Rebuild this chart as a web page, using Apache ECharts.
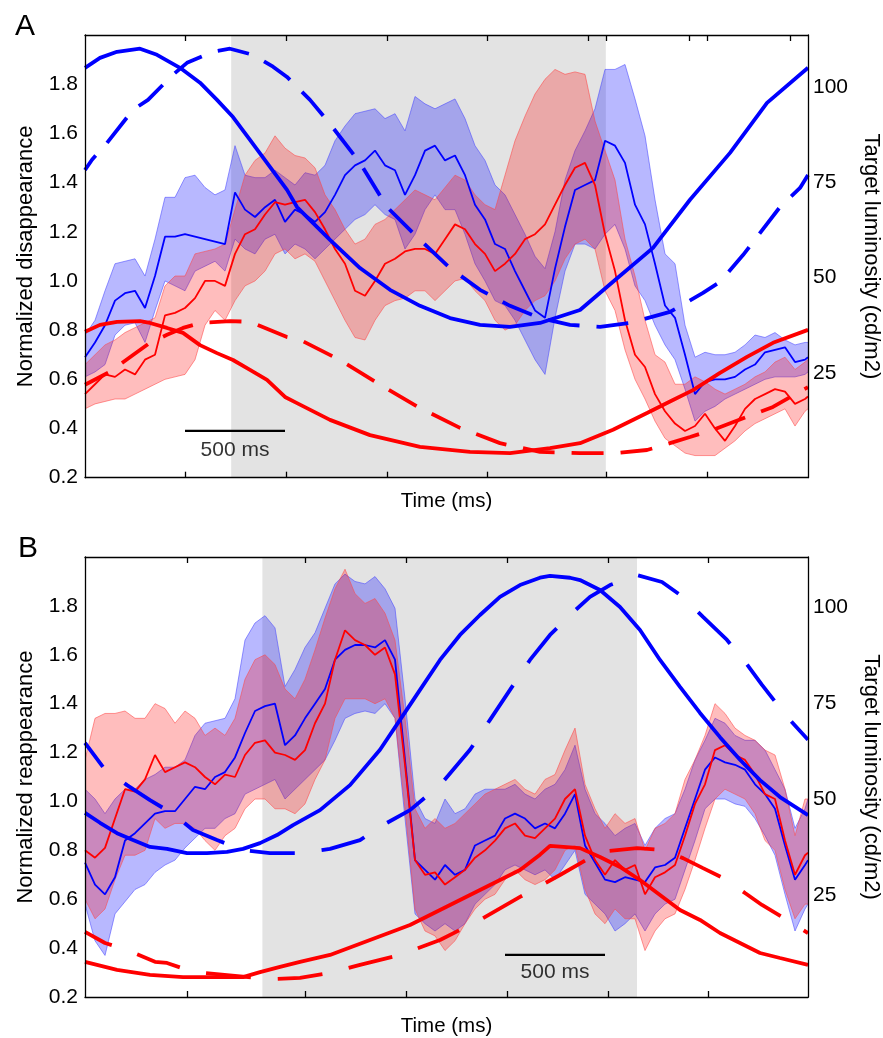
<!DOCTYPE html>
<html><head><meta charset="utf-8">
<script src="https://cdn.jsdelivr.net/npm/echarts@6/dist/echarts.min.js"></script>
<style>html,body{margin:0;padding:0;background:#fff}#c{width:883px;height:1038px}</style>
</head><body><div id="c"></div>
<script>
// ---------- sample times (ms) shared by the mean / band series ----------
const sampleTimes = [0,50,100,150,200,250,300,350,400,450,500,550,600,650,700,750,800,850,900,950,1000,1050,1100,1150,1200,1250,1300,1350,1400,1450,1500,1550,1600,1650,1700,1750,1800,1850,1900,1950,2000,2050,2100,2150,2200,2250,2300,2350,2400,2450,2500,2550,2600,2650,2700,2750,2800,2850,2900,2950,3000,3050,3100,3150,3200,3250,3300,3350,3400,3450,3500,3550,3600,3615];

// ---------- Panel A: normalized disappearance ----------
const aBlueMean = [0.69,0.75,0.82,0.92,0.95,0.96,0.89,1.02,1.18,1.18,1.19,1.18,1.17,1.16,1.15,1.36,1.29,1.26,1.30,1.33,1.24,1.29,1.27,1.24,1.28,1.35,1.43,1.47,1.49,1.53,1.47,1.45,1.35,1.43,1.53,1.55,1.49,1.51,1.43,1.31,1.25,1.15,1.13,1.04,0.96,0.88,0.85,1.05,1.22,1.37,1.39,1.41,1.57,1.55,1.48,1.31,1.23,1.07,0.90,0.85,0.70,0.54,0.59,0.60,0.60,0.61,0.64,0.66,0.71,0.72,0.73,0.67,0.68,0.69];
const aBlueUpper = [0.78,0.84,0.96,1.07,1.08,1.09,1.02,1.17,1.34,1.34,1.42,1.43,1.38,1.35,1.37,1.55,1.43,1.42,1.42,1.45,1.42,1.39,1.44,1.43,1.47,1.57,1.63,1.68,1.69,1.70,1.66,1.68,1.61,1.75,1.72,1.70,1.72,1.74,1.66,1.55,1.49,1.39,1.35,1.27,1.19,1.10,1.05,1.20,1.41,1.53,1.61,1.70,1.86,1.86,1.88,1.74,1.59,1.33,1.11,1.07,0.82,0.69,0.71,0.70,0.70,0.71,0.74,0.78,0.77,0.79,0.76,0.74,0.75,0.75];
const aBlueLower = [0.61,0.63,0.66,0.78,0.82,0.83,0.75,0.88,1.00,0.98,0.96,1.04,1.06,1.08,1.04,1.17,1.13,1.11,1.17,1.19,1.11,1.15,1.13,1.09,1.13,1.17,1.21,1.25,1.27,1.31,1.27,1.25,1.13,1.19,1.29,1.35,1.29,1.29,1.19,1.07,1.00,0.92,0.90,0.84,0.76,0.68,0.62,0.85,1.04,1.15,1.15,1.13,1.19,1.23,1.13,0.98,0.92,0.82,0.74,0.68,0.56,0.43,0.47,0.49,0.52,0.54,0.56,0.58,0.60,0.61,0.61,0.61,0.62,0.63];
const aRedMean = [0.54,0.58,0.62,0.61,0.64,0.62,0.68,0.70,0.86,0.87,0.89,0.93,1.00,1.00,0.98,1.11,1.19,1.21,1.27,1.32,1.31,1.32,1.33,1.28,1.21,1.13,1.07,0.96,0.94,1.00,1.07,1.09,1.12,1.13,1.13,1.11,1.17,1.23,1.21,1.15,1.11,1.04,1.07,1.11,1.17,1.19,1.23,1.31,1.39,1.46,1.48,1.39,1.19,1.04,0.84,0.70,0.65,0.54,0.47,0.42,0.39,0.41,0.46,0.40,0.35,0.41,0.48,0.52,0.54,0.56,0.55,0.50,0.52,0.53];
const aRedUpper = [0.66,0.70,0.74,0.76,0.79,0.81,0.83,0.85,0.98,1.02,1.02,1.11,1.12,1.13,1.15,1.29,1.43,1.49,1.52,1.59,1.54,1.51,1.50,1.46,1.35,1.29,1.21,1.15,1.17,1.23,1.25,1.29,1.33,1.37,1.35,1.33,1.38,1.43,1.41,1.35,1.31,1.29,1.43,1.57,1.67,1.76,1.82,1.86,1.84,1.85,1.84,1.65,1.53,1.41,1.17,1.02,0.84,0.70,0.67,0.58,0.58,0.61,0.59,0.56,0.54,0.56,0.58,0.61,0.63,0.67,0.69,0.64,0.67,0.68];
const aRedLower = [0.48,0.50,0.51,0.52,0.52,0.54,0.56,0.58,0.60,0.61,0.62,0.68,0.82,0.88,0.84,0.92,0.98,1.00,1.04,1.11,1.13,1.09,1.11,1.08,1.00,0.92,0.84,0.77,0.76,0.84,0.90,0.92,0.93,0.96,0.96,0.92,0.96,1.00,1.01,0.96,0.92,0.84,0.80,0.82,0.88,0.92,0.94,1.00,1.09,1.15,1.17,1.13,0.96,0.88,0.72,0.60,0.52,0.43,0.36,0.33,0.30,0.29,0.29,0.29,0.32,0.35,0.39,0.42,0.44,0.46,0.48,0.41,0.47,0.48];

// target luminosity (cd/m2), panel A
const aSolidBlueT = [0,75,160,275,360,475,575,660,740,825,910,1010,1060,1225,1375,1525,1675,1825,1975,2125,2275,2475,2640,2840,3025,3225,3410,3615];
const aSolidBlueLum = [105.0,107.6,109.2,110.0,108.4,105.0,101.1,96.6,92.1,86.1,80.1,73.0,68.5,59.9,52.5,46.8,42.6,39.4,37.6,37.1,38.1,41.5,48.9,57.8,70.4,82.7,95.8,105.0];
const aDashBlueT = [0,35,110,240,315,440,510,640,725,840,940,1010,1125,1225,1375,1510,1675,1825,1975,2125,2275,2425,2575,2725,2925,3090,3175,3290,3475,3575,3615];
const aDashBlueLum = [78.2,80.9,85.3,94.0,96.6,103.2,106.3,109.2,110.0,108.4,105.3,102.6,96.6,90.3,80.1,68.5,59.9,52.5,46.8,42.6,39.4,37.6,37.1,38.1,41.0,46.0,48.9,55.9,68.5,73.5,76.9];
const aSolidRedT = [0,75,160,275,325,410,490,575,660,740,825,910,1000,1060,1225,1425,1675,1925,2125,2325,2475,2640,2810,2940,3040,3175,3310,3440,3615];
const aSolidRedLum = [35.8,37.6,38.4,38.6,38.1,36.8,35.5,32.3,30.2,28.4,25.8,23.2,18.7,17.1,12.7,8.7,5.6,4.3,4.0,5.3,6.6,10.1,14.5,17.9,20.5,25.0,29.2,32.9,36.3];
const aDashRedT = [0,125,240,325,410,490,575,725,825,1010,1075,1275,1475,1675,1875,2075,2275,2475,2660,2810,2925,3025,3140,3310,3440,3615];
const aDashRedLum = [21.9,25.3,29.7,32.9,35.0,36.8,38.1,38.6,38.4,34.4,33.7,28.4,21.9,15.8,10.6,6.6,4.3,4.0,4.0,4.8,6.6,8.2,10.1,13.5,16.1,21.3];

// ---------- Panel B: normalized reappearance ----------
const bBlueMean = [0.75,0.66,0.62,0.69,0.84,0.87,0.91,0.95,0.96,0.96,1.01,1.06,1.05,1.10,1.12,1.18,1.28,1.37,1.39,1.40,1.23,1.27,1.34,1.40,1.46,1.58,1.62,1.64,1.64,1.63,1.66,1.58,1.17,0.76,0.72,0.68,0.74,0.70,0.72,0.82,0.84,0.86,0.93,0.95,0.93,0.89,0.91,0.89,0.95,1.03,0.82,0.75,0.68,0.67,0.69,0.68,0.67,0.73,0.74,0.77,0.89,1.01,1.13,1.18,1.16,1.15,1.13,1.07,1.03,0.97,0.82,0.68,0.74,0.76];
const bBlueUpper = [1.05,1.01,0.95,1.01,1.05,1.05,1.09,1.11,1.14,1.14,1.17,1.27,1.32,1.33,1.34,1.42,1.66,1.73,1.76,1.71,1.47,1.54,1.63,1.69,1.79,1.89,1.93,1.90,1.89,1.92,1.87,1.79,1.42,1.01,0.93,0.91,1.01,0.95,0.97,1.03,1.05,1.05,1.05,1.07,1.03,1.01,1.05,1.07,1.13,1.23,1.05,0.95,0.91,0.86,0.89,0.91,0.82,0.89,0.93,0.95,1.05,1.17,1.25,1.34,1.32,1.27,1.25,1.25,1.21,1.13,1.05,0.89,0.97,1.01];
const bBlueLower = [0.58,0.43,0.37,0.54,0.59,0.64,0.66,0.71,0.74,0.76,0.81,0.85,0.89,0.89,0.93,0.95,1.03,1.05,1.07,1.09,1.01,1.05,1.09,1.13,1.17,1.25,1.34,1.36,1.37,1.36,1.40,1.34,0.93,0.54,0.50,0.47,0.50,0.47,0.50,0.58,0.62,0.66,0.72,0.74,0.72,0.70,0.72,0.68,0.74,0.80,0.62,0.58,0.54,0.47,0.50,0.54,0.47,0.54,0.58,0.60,0.72,0.84,0.97,1.01,1.01,0.99,0.98,0.93,0.86,0.78,0.62,0.47,0.56,0.58];
const bRedMean = [0.80,0.77,0.81,0.93,1.05,1.04,1.09,1.19,1.12,1.14,1.16,1.14,1.10,1.07,1.11,1.10,1.19,1.24,1.25,1.20,1.19,1.17,1.21,1.32,1.40,1.58,1.70,1.66,1.64,1.60,1.63,1.52,1.15,0.76,0.70,0.71,0.66,0.69,0.72,0.77,0.80,0.84,0.89,0.91,0.86,0.85,0.89,0.93,1.01,1.05,0.86,0.76,0.70,0.76,0.72,0.74,0.62,0.69,0.71,0.74,0.86,0.99,1.07,1.21,1.23,1.19,1.17,1.11,1.03,1.01,0.84,0.70,0.78,0.79];
const bRedUpper = [1.17,1.34,1.36,1.36,1.37,1.34,1.34,1.40,1.38,1.32,1.37,1.34,1.27,1.30,1.27,1.34,1.50,1.58,1.60,1.56,1.46,1.42,1.50,1.62,1.75,1.87,1.95,1.85,1.81,1.83,1.77,1.66,1.34,0.97,0.89,0.93,0.89,0.91,0.95,0.99,1.03,1.05,1.07,1.09,1.05,1.03,1.09,1.11,1.21,1.30,1.07,0.97,0.89,0.95,0.91,0.93,0.80,0.89,0.91,0.95,1.09,1.17,1.27,1.40,1.36,1.30,1.27,1.25,1.21,1.19,1.05,0.86,1.01,1.01];
const bRedLower = [0.60,0.52,0.56,0.68,0.78,0.78,0.80,0.93,0.89,0.91,0.91,0.89,0.84,0.80,0.86,0.89,0.97,1.01,1.01,0.97,0.97,0.95,0.99,1.09,1.17,1.34,1.42,1.42,1.42,1.40,1.42,1.34,0.97,0.56,0.47,0.45,0.39,0.43,0.50,0.56,0.60,0.62,0.68,0.72,0.68,0.66,0.68,0.72,0.80,0.82,0.64,0.54,0.50,0.56,0.52,0.52,0.39,0.47,0.52,0.54,0.64,0.76,0.89,1.01,1.05,1.03,1.01,0.95,0.84,0.80,0.64,0.52,0.58,0.58];

// target luminosity (cd/m2), panel B
const bSolidBlueT = [0,75,160,240,325,410,510,610,710,790,875,960,1040,1175,1325,1475,1575,1675,1775,1875,1975,2075,2175,2275,2325,2425,2475,2575,2675,2775,2875,2975,3075,3175,3275,3375,3475,3615];
const bSolidBlueLum = [46.4,43.8,41.1,39.3,37.5,37.0,35.9,35.9,36.2,37.0,38.5,40.6,43.2,47.1,53.6,62.8,70.6,78.4,86.2,92.7,97.9,102.6,105.7,107.6,108.1,107.6,107.0,104.4,100.0,94.0,86.2,79.2,72.4,66.1,60.2,54.9,50.5,45.8];
const bDashBlueT = [0,90,210,325,450,540,660,790,925,1075,1225,1375,1490,1625,1775,1925,2025,2125,2225,2325,2425,2525,2625,2760,2885,2990,3090,3210,3300,3385,3510,3615];
const bDashBlueLum = [64.6,58.3,53.6,49.7,45.8,41.9,39.3,36.7,35.9,35.9,37.0,39.3,43.2,47.1,53.6,62.8,70.6,78.4,86.2,92.7,97.9,102.6,105.7,108.3,106.5,102.6,97.4,91.4,85.7,79.7,71.4,65.4];
const bSolidRedT = [0,160,325,490,650,790,875,975,1075,1225,1425,1625,1825,1975,2075,2175,2275,2325,2475,2575,2675,2775,2875,2975,3075,3175,3275,3375,3475,3615];
const bSolidRedLum = [7.6,5.5,4.2,3.6,3.6,3.6,4.9,6.3,7.6,9.4,13.3,17.2,22.4,26.3,28.9,31.5,35.5,37.8,37.2,34.9,32.3,28.9,25.0,21.1,18.5,15.1,12.5,9.9,8.6,6.8];
const bDashRedT = [0,100,210,350,410,540,925,1075,1225,1375,1575,1775,1975,2175,2375,2575,2760,2885,2990,3090,3210,3300,3385,3510,3615];
const bDashRedLum = [15.4,12.5,10.7,7.6,7.3,5.0,3.1,3.4,4.7,6.8,9.4,13.3,18.5,24.5,30.2,36.2,37.2,36.7,34.6,32.0,28.9,25.5,22.4,18.5,15.1];

// ---------- axes, stimulus window, scale bars ----------
const timeRange = [0, 3615];
const leftRange = [0.2, 2.0];
const aRightRange = [-2.46, 113.6];
const bRightRange = [-1.56, 113.0];
const leftTickLabels = [0.2,0.4,0.6,0.8,1.0,1.2,1.4,1.6,1.8];
const rightTickLabels = [25,50,75,100];
const aTicksBottom = [500,1005,1510,2010,2605,3110];
const aTicksTop = [500,1005,1510,2010,2515,2605,3020,3110,3525];
const bTicksBottom = [510,1103,1605,2110,2615,3115];
const bTicksTop = [510,1103,1605,2110,2615,3115];
const aGrayWindow = [731, 2604];
const bGrayWindow = [887, 2760];
const aScaleBar = {t:[500,1000], y:0.39, labelT:750, labelY:0.313, text:'500 ms'};
const bScaleBar = {t:[2100,2600], y:0.372, labelT:2350, labelY:0.303, text:'500 ms'};

const FONT = '"Liberation Sans", Arial, Helvetica, sans-serif';
const BLUE = '#0000ff', RED = '#ff0000';

function pairs(t, v){ const n=Math.min(t.length,v.length); const o=[]; for(let i=0;i<n;i++) o.push([t[i],v[i]]); return o; }

function grayWindow(xi, yi, win){
  return {type:'custom', xAxisIndex:xi, yAxisIndex:yi, z:1, silent:true, data:[[win[0], win[1]]],
    renderItem(params, api){
      const p1 = api.coord([win[0], leftRange[1]]);
      const p2 = api.coord([win[1], leftRange[0]]);
      return {type:'rect', shape:{x:p1[0], y:p1[1], width:p2[0]-p1[0], height:p2[1]-p1[1]}, style:{fill:'#e3e3e3'}};
    }};
}
function band(xi, yi, upper, lower, fill, edge, z){
  return {type:'custom', xAxisIndex:xi, yAxisIndex:yi, z, silent:true, data:[[0,0]], clip:true,
    renderItem(params, api){
      const n = Math.min(sampleTimes.length, upper.length, lower.length);
      const top=[], bot=[];
      for(let i=0;i<n;i++){ top.push(api.coord([sampleTimes[i], upper[i]])); bot.push(api.coord([sampleTimes[i], lower[i]])); }
      const poly = top.concat(bot.slice().reverse());
      return {type:'group', children:[
        {type:'polygon', shape:{points:poly}, style:{fill:fill, stroke:null}},
        {type:'polyline', shape:{points:top}, style:{stroke:edge, lineWidth:0.8, fill:null}},
        {type:'polyline', shape:{points:bot}, style:{stroke:edge, lineWidth:0.8, fill:null}}
      ]};
    }};
}
function meanLine(xi, yi, vals, color, z){
  return {type:'line', xAxisIndex:xi, yAxisIndex:yi, z, silent:true, data:pairs(sampleTimes, vals),
    symbol:'none', lineStyle:{color, width:1.8}};
}
function lumLine(xi, yi, t, v, color, dash, offset, z){
  return {type:'line', xAxisIndex:xi, yAxisIndex:yi, z, silent:true, data:pairs(t, v), symbol:'none',
    lineStyle:{color, width:3.8, type: dash ? dash : 'solid', dashOffset: offset || 0, cap:'butt'}};
}
function scaleBar(xi, yi, sb){
  return [
    {type:'line', xAxisIndex:xi, yAxisIndex:yi, z:9, silent:true, symbol:'none',
      data:[[sb.t[0], sb.y],[sb.t[1], sb.y]], lineStyle:{color:'#000', width:2.2}},
    {type:'scatter', xAxisIndex:xi, yAxisIndex:yi, z:9, silent:true, symbolSize:0,
      data:[[sb.labelT, sb.labelY]],
      label:{show:true, position:'inside', formatter:sb.text, fontSize:21, color:'#000', fontFamily:FONT}}
  ];
}

function xAx(grid, pos, ticks, withName, gap){
  const o = {gridIndex:grid, type:'value', min:timeRange[0], max:timeRange[1], position:pos, z:20,
    axisLine:{show:true, onZero:false, lineStyle:{color:'#000', width:1.3}},
    axisTick:{show:true, inside:true, length:6, customValues:ticks, lineStyle:{color:'#000', width:1.3}},
    axisLabel:{show:false}, splitLine:{show:false}};
  if(withName){ o.name='Time (ms)'; o.nameLocation='middle'; o.nameGap=gap;
    o.nameTextStyle={fontSize:20.5, color:'#000', fontFamily:FONT}; }
  return o;
}
function yLeft(grid, name){
  return {gridIndex:grid, type:'value', min:leftRange[0], max:leftRange[1], position:'left', z:20,
    axisLine:{show:true, onZero:false, lineStyle:{color:'#000', width:1.3}},
    axisTick:{show:false},
    axisLabel:{customValues:leftTickLabels, formatter:v=>v.toFixed(1), fontSize:21, color:'#000', margin:7, fontFamily:FONT},
    splitLine:{show:false}, name, nameLocation:'middle', nameGap:48,
    nameTextStyle:{fontSize:22, color:'#000', fontFamily:FONT}};
}
function yRight(grid, range){
  return {gridIndex:grid, type:'value', min:range[0], max:range[1], position:'right', z:20,
    axisLine:{show:true, onZero:false, lineStyle:{color:'#000', width:1.3}},
    axisTick:{show:false},
    axisLabel:{customValues:rightTickLabels, fontSize:21, color:'#000', margin:5, fontFamily:FONT},
    splitLine:{show:false}, name:'Target luminosity (cd/m2)', nameLocation:'middle', nameGap:52, nameRotate:-90,
    nameTextStyle:{fontSize:22, color:'#000', fontFamily:FONT}};
}

const series = [
  grayWindow(0,0,aGrayWindow),
  band(0,0,aBlueUpper,aBlueLower,'rgba(0,0,255,0.28)','rgba(70,70,255,0.7)',2),
  band(0,0,aRedUpper,aRedLower,'rgba(255,0,0,0.26)','rgba(255,70,70,0.7)',3),
  meanLine(0,0,aBlueMean,BLUE,4),
  meanLine(0,0,aRedMean,RED,5),
  lumLine(0,1,aSolidBlueT,aSolidBlueLum,BLUE,null,0,6),
  lumLine(0,1,aDashBlueT,aDashBlueLum,BLUE,[32,17],14,6),
  lumLine(0,1,aSolidRedT,aSolidRedLum,RED,null,0,6),
  lumLine(0,1,aDashRedT,aDashRedLum,RED,[32,17],6,6),
  ...scaleBar(0,0,aScaleBar),

  grayWindow(2,2,bGrayWindow),
  band(2,2,bBlueUpper,bBlueLower,'rgba(0,0,255,0.28)','rgba(70,70,255,0.7)',2),
  band(2,2,bRedUpper,bRedLower,'rgba(255,0,0,0.26)','rgba(255,70,70,0.7)',3),
  meanLine(2,2,bBlueMean,BLUE,4),
  meanLine(2,2,bRedMean,RED,5),
  lumLine(2,3,bSolidBlueT,bSolidBlueLum,BLUE,null,0,6),
  lumLine(2,3,bDashBlueT,bDashBlueLum,BLUE,[45,27],15,6),
  lumLine(2,3,bSolidRedT,bSolidRedLum,RED,null,0,6),
  lumLine(2,3,bDashRedT,bDashRedLum,RED,[45,27],15,6),
  ...scaleBar(2,2,bScaleBar)
];

const chart = echarts.init(document.getElementById('c'), null, {renderer:'canvas'});
chart.setOption({
  animation:false,
  backgroundColor:'#fff',
  title:[
    {text:'A', left:10, top:7, textStyle:{fontSize:30, fontWeight:'normal', color:'#000', fontFamily:FONT}},
    {text:'B', left:13, top:529, textStyle:{fontSize:30, fontWeight:'normal', color:'#000', fontFamily:FONT}}
  ],
  grid:[
    {left:85, top:35, width:723, height:442.7, outerBoundsMode:'none', containLabel:false},
    {left:85, top:557, width:723, height:440, outerBoundsMode:'none', containLabel:false}
  ],
  xAxis:[
    xAx(0,'bottom',aTicksBottom,true,13),
    xAx(0,'top',aTicksTop,false),
    xAx(1,'bottom',bTicksBottom,true,19),
    xAx(1,'top',bTicksTop,false)
  ],
  yAxis:[
    yLeft(0,'Normalized disappearance'),
    yRight(0,aRightRange),
    yLeft(1,'Normalized reappearance'),
    yRight(1,bRightRange)
  ],
  series
});
</script>
</body></html>
